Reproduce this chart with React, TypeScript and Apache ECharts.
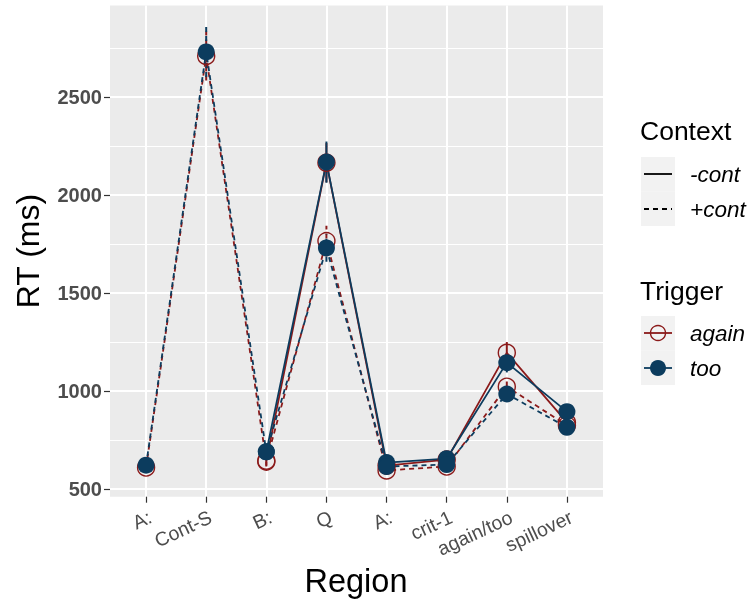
import React, { useEffect, useRef } from "react";
import * as echarts from "echarts";

const categories = ["A:", "Cont-S", "B:", "Q", "A:", "crit-1", "again/too", "spillover"];

// -cont condition has no context sentence (A:, Cont-S missing)
const againMinus = [null, null, 645, 2165, 620, 650, 1195, 840];
const againMinusErr = [null, null, 25, 100, 25, 25, 55, 35];
const againPlus = [610, 2709, 640, 1765, 595, 615, 1022, 825];
const againPlusErr = [20, 125, 25, 78, 20, 20, 45, 30];
const tooMinus = [null, null, 690, 2168, 635, 655, 1145, 895];
const tooMinusErr = [null, null, 25, 105, 25, 25, 50, 35];
const tooPlus = [622, 2730, 690, 1730, 615, 625, 985, 815];
const tooPlusErr = [20, 128, 25, 70, 20, 20, 40, 25];

const majorTicks = [500, 1000, 1500, 2000, 2500];
const minorTicks = [750, 1250, 1750, 2250, 2750];

const RED = "#8B1A1A";
const BLUE = "#0C3C5E";
const FONT = "Liberation Sans, Arial, sans-serif";

function pts(vals: (number | null)[]) {
  return vals.map((v, i) => (v == null ? null : [i, v])).filter((d) => d !== null);
}
function errPts(vals: (number | null)[], errs: (number | null)[]) {
  return vals
    .map((v, i) => (v == null || errs[i] == null ? null : [i, v - (errs[i] as number), v + (errs[i] as number)]))
    .filter((d) => d !== null);
}

function errSeries(vals: (number | null)[], errs: (number | null)[], color: string, dashed: boolean) {
  return {
    type: "custom",
    silent: true,
    z: 1,
    data: errPts(vals, errs),
    encode: { x: 0, y: [1, 2] },
    renderItem: (params: any, api: any) => {
      const x = api.value(0);
      const p1 = api.coord([x, api.value(1)]);
      const p2 = api.coord([x, api.value(2)]);
      return {
        type: "line",
        shape: { x1: p1[0], y1: p1[1], x2: p2[0], y2: p2[1] },
        style: { stroke: color, lineWidth: 2, lineDash: dashed ? [5, 4] : null },
      };
    },
  };
}

function lineSeries(name: string, vals: (number | null)[], color: string, dashed: boolean, filled: boolean) {
  return {
    type: "line",
    name,
    z: 2,
    data: pts(vals),
    symbol: "circle",
    symbolSize: 17,
    lineStyle: { color, width: 1.8, type: dashed ? [5, 4] : "solid" },
    itemStyle: filled
      ? { color, borderColor: color, borderWidth: 0 }
      : { color: "rgba(0,0,0,0)", borderColor: color, borderWidth: 1.4 },
    emphasis: { disabled: true },
  };
}

export default function App() {
  const ref = useRef<HTMLDivElement>(null);
  useEffect(() => {
    if (!ref.current) return;
    const chart = echarts.init(ref.current, null, { renderer: "svg" });
    const txt = (text: string, x: number, y: number, size: number, extra: any = {}) => ({
      type: "text",
      x,
      y,
      ...extra,
      style: { text, fontSize: size, fontFamily: FONT, fill: "#000", align: "left", verticalAlign: "middle", ...(extra.style || {}) },
    });
    const graphic: any[] = [];
    [157, 191.5, 316, 350.5].forEach((y) =>
      graphic.push({ type: "rect", shape: { x: 641, y, width: 34, height: 34.5 }, style: { fill: "#F2F2F2" } })
    );
    graphic.push(
      txt("Context", 640, 131, 26.5),
      { type: "line", shape: { x1: 644, y1: 174, x2: 672, y2: 174 }, style: { stroke: "#000", lineWidth: 1.8 } },
      { type: "line", shape: { x1: 644, y1: 209, x2: 672, y2: 209 }, style: { stroke: "#000", lineWidth: 1.8, lineDash: [5, 4] } },
      txt("-cont", 690, 174, 22.5, { style: { fontStyle: "italic" } }),
      txt("+cont", 690, 209, 22.5, { style: { fontStyle: "italic" } }),
      txt("Trigger", 640, 291, 26.5),
      { type: "line", shape: { x1: 644, y1: 333, x2: 672, y2: 333 }, style: { stroke: RED, lineWidth: 1.8 } },
      { type: "circle", shape: { cx: 658, cy: 333, r: 7.5 }, style: { fill: "none", stroke: RED, lineWidth: 1.4 } },
      { type: "line", shape: { x1: 644, y1: 368, x2: 672, y2: 368 }, style: { stroke: BLUE, lineWidth: 1.8 } },
      { type: "circle", shape: { cx: 658, cy: 368, r: 8 }, style: { fill: BLUE } },
      txt("again", 690, 333, 22.5, { style: { fontStyle: "italic" } }),
      txt("too", 690, 368, 22.5, { style: { fontStyle: "italic" } }),
      txt("RT (ms)", 28, 251, 32, { rotation: Math.PI / 2, style: { align: "center" } }),
      txt("Region", 356, 581, 32.5, { style: { align: "center" } })
    );
    const idx = categories.map((_, i) => i);
    const option: any = {
      animation: false,
      grid: { left: 110, right: 150, top: 5.5, bottom: 103.3, show: true, backgroundColor: "#EBEBEB", borderWidth: 0, containLabel: false },
      xAxis: {
        type: "value",
        min: -0.6,
        max: 7.6,
        axisLine: { show: false, onZero: false },
        axisTick: { show: true, customValues: idx, length: 6, lineStyle: { color: "#333333", width: 1.2 } },
        axisLabel: {
          customValues: idx.map((i) => i + 0.07),
          formatter: (v: number) => categories[Math.round(v)] ?? "",
          rotate: 25,
          margin: 19,
          fontSize: 19.5,
          color: "#4D4D4D",
          fontFamily: FONT,
        },
        splitLine: { show: true, lineStyle: { color: "#FFFFFF", width: 2 } },
      },
      yAxis: [
        {
          type: "value",
          min: 461,
          max: 2967,
          axisLine: { show: false, onZero: false },
          axisTick: { show: true, customValues: majorTicks, length: 6, lineStyle: { color: "#333333", width: 1.2 } },
          axisLabel: {
            customValues: majorTicks,
            formatter: (v: number) => String(v),
            fontSize: 20,
            fontWeight: "bold",
            color: "#4D4D4D",
            margin: 8,
            fontFamily: FONT,
          },
          splitLine: { show: true, lineStyle: { color: "#FFFFFF", width: 2 } },
        },
        {
          type: "value",
          min: 461,
          max: 2967,
          position: "left",
          axisLine: { show: false, onZero: false },
          axisTick: { show: false, customValues: minorTicks },
          axisLabel: { show: false, customValues: minorTicks },
          splitLine: { show: true, lineStyle: { color: "#FFFFFF", width: 1 } },
        },
      ],
      series: [
        errSeries(againMinus, againMinusErr, RED, false),
        errSeries(againPlus, againPlusErr, RED, true),
        lineSeries("again -cont", againMinus, RED, false, false),
        lineSeries("again +cont", againPlus, RED, true, false),
        errSeries(tooMinus, tooMinusErr, BLUE, false),
        errSeries(tooPlus, tooPlusErr, BLUE, true),
        lineSeries("too -cont", tooMinus, BLUE, false, true),
        lineSeries("too +cont", tooPlus, BLUE, true, true),
      ],
      graphic,
    };
    chart.setOption(option);
    return () => chart.dispose();
  }, []);
  return <div ref={ref} style={{ position: "fixed", left: 0, top: 0, width: 753, height: 600 }} />;
}
